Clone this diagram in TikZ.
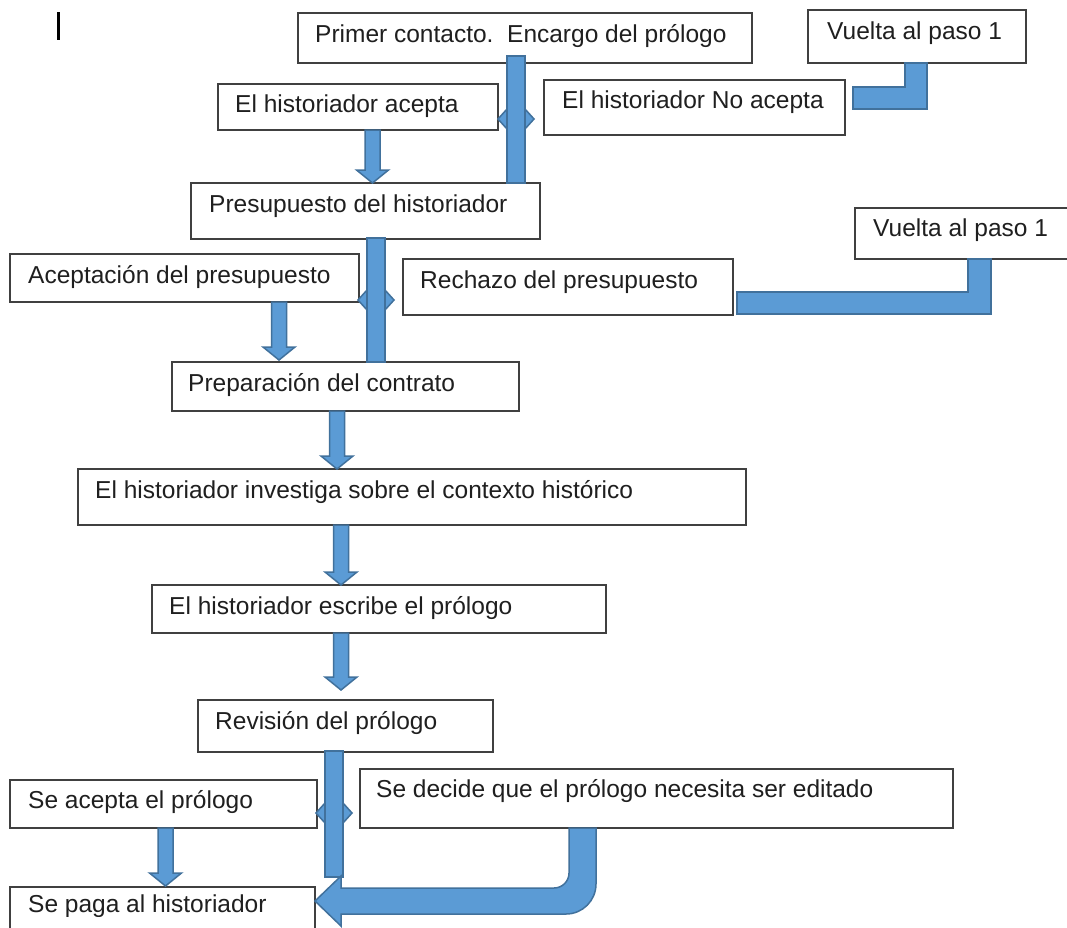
\documentclass[tikz,border=0pt]{standalone}
\usepackage{fontspec}
\setmainfont{Liberation Sans}
\usetikzlibrary{calc}

\definecolor{blockfill}{HTML}{5B9BD5}
\definecolor{blockline}{HTML}{41719C}
\definecolor{boxline}{HTML}{404040}

\tikzset{
  stepbox/.style={draw=boxline, line width=1.3pt, fill=white, rectangle,
    inner sep=0pt, outer sep=0pt, anchor=north west},
  steptext/.style={anchor=base west, inner sep=0pt, text=black!88,
    font=\fontsize{24.5}{28}\selectfont},
  blk/.style={fill=blockfill, draw=blockline, line width=1.5pt, line join=miter},
}

% box: name, left, top, width, height, text offset, text
\newcommand\mkstep[7]{%
  \node[stepbox, minimum width=#4, minimum height=#5] (#1) at (#2,#3) {};
  \node[steptext] (#1t) at ($(#1.north west)+(#6)$) {#7};}

% straight block arrow pointing down: tail centre, tip
\newcommand\blockdown[2]{%
  \draw[blk] ($(#1)+(-7.5,0)$) -- ($(#2)+(-7.5,-13)$) -- ($(#2)+(-16,-13)$)
    -- (#2) -- ($(#2)+(16,-13)$) -- ($(#2)+(7.5,-13)$) -- ($(#1)+(7.5,0)$) -- cycle;}

% vertical bar with a left/right split marker: top centre, bottom centre, marker centre
\newcommand\splitbar[3]{%
  \draw[blk] ($(#3)+(-18,0)$) -- ($(#3)+(-9,-10)$) -- ($(#3)+(9,-10)$)
    -- ($(#3)+(18,0)$) -- ($(#3)+(9,10)$) -- ($(#3)+(-9,10)$) -- cycle;
  \draw[blk] ($(#1)+(-9,0)$) rectangle ($(#2)+(9,0)$);}

\begin{document}
\begin{tikzpicture}[x=1pt, y=-1pt]
  \clip (0,0) rectangle (1067,927);
  \fill[white] (0,0) rectangle (1067,927);

  % cursor mark
  \draw[line width=2.6pt, black] (58.5,12) -- (58.5,40);

  % steps
  \mkstep{b1}{298}{13}{454}{50}{17,29}{Primer contacto.\ \ Encargo del prólogo}
  \mkstep{b2}{808}{10}{218}{53}{19,29}{Vuelta al paso 1}
  \mkstep{b3}{218}{84}{280}{46}{17,28}{El historiador acepta}
  \mkstep{b4}{544}{80}{301}{55}{18,28}{El historiador No acepta}
  \mkstep{b5}{191}{183}{349}{56}{18,29}{Presupuesto del historiador}
  \mkstep{b6}{855}{208}{230}{51}{18,28}{Vuelta al paso 1}
  \mkstep{b7}{10}{254}{349}{48}{18,29}{Aceptación del presupuesto}
  \mkstep{b8}{403}{259}{330}{56}{17,29}{Rechazo del presupuesto}
  \mkstep{b9}{172}{362}{347}{49}{16,29}{Preparación del contrato}
  \mkstep{b10}{78}{469}{668}{56}{17,29}{El historiador investiga sobre el contexto histórico}
  \mkstep{b11}{152}{585}{454}{48}{17,29}{El historiador escribe el prólogo}
  \mkstep{b12}{198}{700}{295}{52}{17,29}{Revisión del prólogo}
  \mkstep{b13}{10}{780}{307}{48}{18,28}{Se acepta el prólogo}
  \mkstep{b14}{360}{769}{593}{59}{16,28}{Se decide que el prólogo necesita ser editado}
  \begin{scope}
    \clip (0,880) rectangle (400,916);
    \mkstep{b15}{10}{887}{305}{60}{18,25}{Se paga al historiador}
  \end{scope}
  \draw[boxline, line width=1.3pt] (b15.south west) |- (b15.north east) -- (b15.south east);

  % first decision
  \splitbar{$(b1.south west)+(218,-7)$}{$(b5.north west)+(325,0)$}{$(b1.south west)+(218,56)$}
  \blockdown{$(b3.south west)+(154.5,0)$}{$(b5.north west)+(181.5,0)$}
  \coordinate (l1a) at ($(b4.north east)+(8,7)$);
  \coordinate (l1b) at ($(b2.south west)+(97,0)$);
  \draw[blk] (l1a) -| (l1b) -- ++(22,0) |- ($(l1a)+(0,22)$) -- cycle;

  % budget decision
  \splitbar{$(b5.south west)+(185,-1)$}{$(b9.north west)+(204,0)$}{$(b5.south west)+(185,61)$}
  \blockdown{$(b7.south west)+(269,0)$}{$(b9.north west)+(107,-2)$}
  \coordinate (l2a) at ($(b8.north east)+(4,33)$);
  \coordinate (l2b) at ($(b6.south west)+(113,0)$);
  \draw[blk] (l2a) -| (l2b) -- ++(23,0) |- ($(l2a)+(0,22)$) -- cycle;

  % main sequence
  \blockdown{$(b9.south west)+(165,0)$}{$(b10.north west)+(259,0)$}
  \blockdown{$(b10.south west)+(263,0)$}{$(b11.north west)+(189,0)$}
  \blockdown{$(b11.south west)+(189,0)$}{$(b12.north west)+(143,-10)$}

  % review decision
  \splitbar{$(b12.south west)+(136,-1)$}{$(b15.north east)+(19,-10)$}{$(b12.south west)+(136,61)$}
  \blockdown{$(b13.south west)+(155.5,0)$}{$(b15.north west)+(155.5,-1)$}
  \coordinate (u0) at ($(b14.south west)+(209,0)$);
  \coordinate (ut) at ($(b15.north east)+(0,14)$);
  \draw[blk] (u0) -- ++(27,0) -- ($(ut -| u0)+(27,-17)$)
    arc[start angle=0, end angle=90, radius=30]
    -- ($(ut)+(26,13)$) -- ($(ut)+(26,25)$) -- (ut) -- ($(ut)+(26,-25)$)
    -- ($(ut)+(26,-13)$) -- ($(ut -| u0)+(-15,-13)$)
    arc[start angle=90, end angle=0, radius=15] -- cycle;
\end{tikzpicture}
\end{document}
